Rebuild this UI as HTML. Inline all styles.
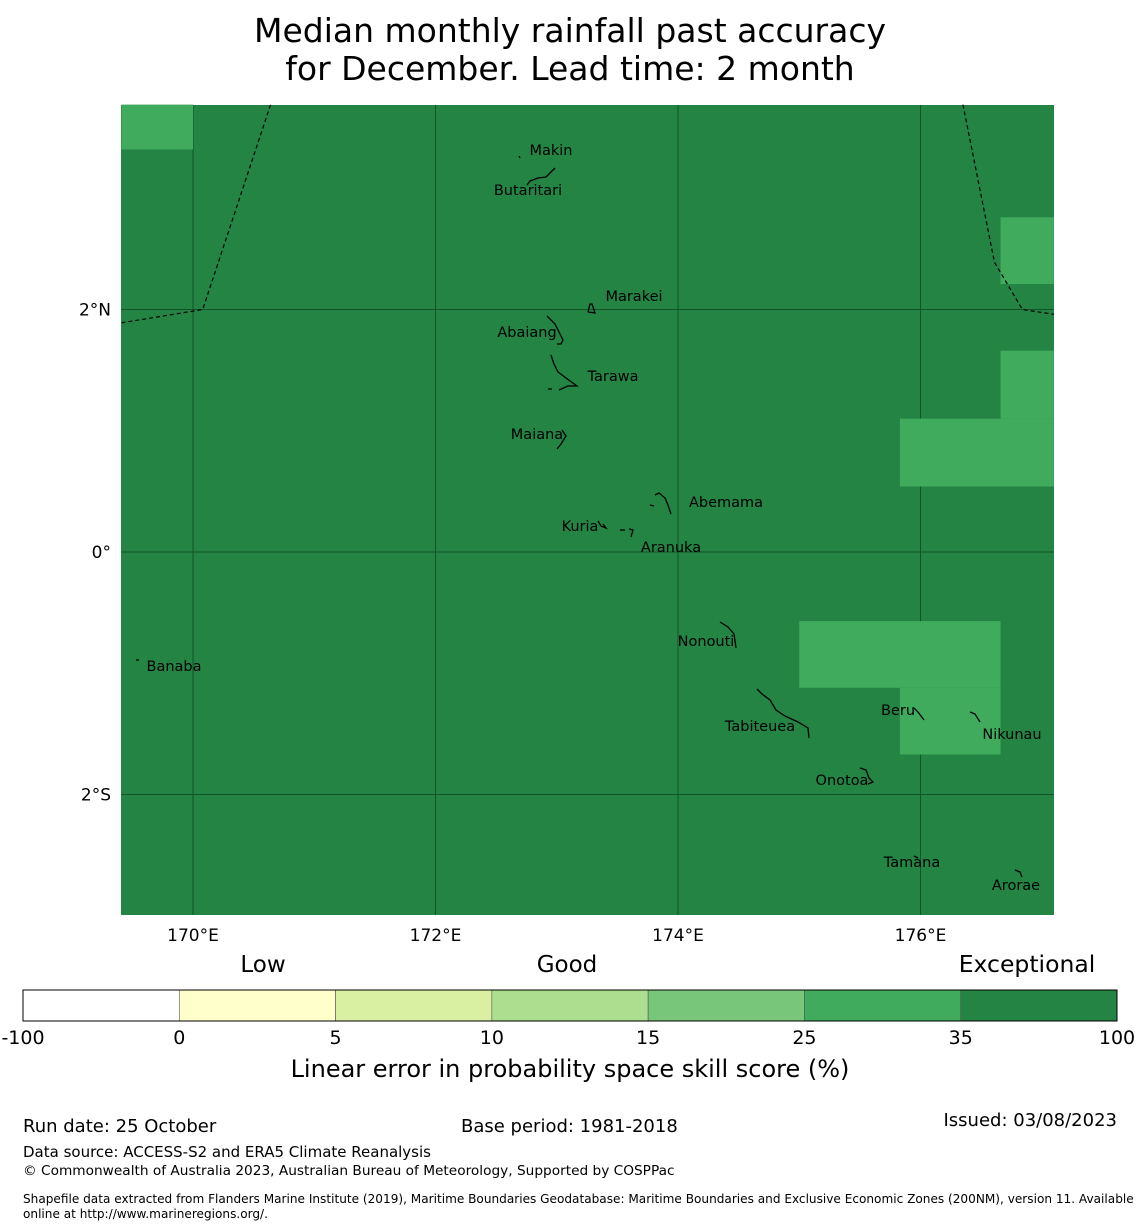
<!DOCTYPE html>
<html><head><meta charset="utf-8"><style>
body{margin:0;background:#fff;font-family:"DejaVu Sans","Liberation Sans",sans-serif;}
svg{display:block}
</style></head><body>
<svg id="s" width="1140" height="1230" xmlns="http://www.w3.org/2000/svg" font-family="DejaVu Sans, Liberation Sans, sans-serif">
<text x="570" y="42" font-size="33" text-anchor="middle">Median monthly rainfall past accuracy</text>
<text x="570" y="80" font-size="33" text-anchor="middle">for December. Lead time: 2 month</text>
<g id="map"></g>
<g id="cb"></g>
<text x="263" y="972" font-size="23" text-anchor="middle">Low</text>
<text x="567" y="972" font-size="23" text-anchor="middle">Good</text>
<text x="1027" y="972" font-size="23.5" text-anchor="middle">Exceptional</text>
<text x="570" y="1077" font-size="24" text-anchor="middle">Linear error in probability space skill score (%)</text>
<text x="23" y="1132" font-size="18">Run date: 25 October</text>
<text x="461" y="1132" font-size="18">Base period: 1981-2018</text>
<text x="1117" y="1126" font-size="18" text-anchor="end">Issued: 03/08/2023</text>
<text x="23" y="1157" font-size="15">Data source: ACCESS-S2 and ERA5 Climate Reanalysis</text>
<text x="23" y="1175" font-size="13.7">© Commonwealth of Australia 2023, Australian Bureau of Meteorology, Supported by COSPPac</text>
<text x="23" y="1203" font-size="12.1">Shapefile data extracted from Flanders Marine Institute (2019), Maritime Boundaries Geodatabase: Maritime Boundaries and Exclusive Economic Zones (200NM), version 11. Available</text>
<text x="23" y="1218" font-size="12.1">online at http://www.marineregions.org/.</text>
</svg>
<script>
const lonTicks=[170,172,174,176];
const lonTickLabels=["170°E","172°E","174°E","176°E"];
const latTicks=[2,0,-2];
const latTickLabels=["2°N","0°","2°S"];
const cellLon0=[169.41,176.66,176.66,175.83,175.0,175.83];
const cellLon1=[170.0,177.1,177.1,177.1,176.66,176.66];
const cellLat0=[3.32,2.21,1.10,0.54,-1.12,-1.67];
const cellLat1=[3.69,2.76,1.66,1.10,-0.57,-1.12];
const islandNames=["Makin","Butaritari","Marakei","Abaiang","Tarawa","Maiana","Abemama","Kuria","Aranuka","Nonouti","Banaba","Tabiteuea","Beru","Nikunau","Onotoa","Tamana","Arorae"];
const labelX=[551,528,634,527,613,537,726,580,671,706,174,760,898,1012,842,912,1016];
const labelY=[150,190,296,332,376,434,502,526,547,641,666,726,710,734,780,862,885];
const cbBounds=["-100","0","5","10","15","25","35","100"];
const cbColors=["#ffffff","#ffffcc","#d9f0a3","#addd8e","#78c679","#41ab5d","#238443"];
const eezLeftLon=[169.41,170.08,170.64];
const eezLeftLat=[1.89,2.00,3.69];
const eezRightLon=[176.35,176.61,176.84,177.1];
const eezRightLat=[3.69,2.39,2.00,1.96];
const outlines=[
 "519,156 520,158",
 "527,185 530,181 538,178 546,177 555,168",
 "588,312 590,304 592,304 595,313 588,312",
 "547,316 555,324 559,332 563,340 561,344 557,344",
 "551,355 554,364 558,372 566,378 577,386 568,386 559,390",
 "548,389 552,389",
 "562,430 566,436 561,444 557,449",
 "655,495 659,493 665,498 668,505 671,514",
 "650,505 654,506",
 "598,521 601,526 606,528 603,524",
 "620,530 625,530",
 "629,529 633,530 631,537",
 "720,622 728,627 734,634 736,648",
 "136,660 139,660",
 "757,689 762,694 770,700 776,710 785,716 798,722 808,728 809,738",
 "914,708 918,712 924,720",
 "970,712 975,714 980,722",
 "860,768 866,770 869,778 873,782 868,784",
 "914,856 918,858",
 "1015,870 1020,872 1022,877"
];

const X0=121,X1=1054,Y0=105,Y1=915;
const xs=lon=>193+(lon-170)*121.25;
const ys=lat=>552-lat*121.25;
const NS="http://www.w3.org/2000/svg";
function mk(tag,attrs,parent){const e=document.createElementNS(NS,tag);for(const k in attrs)e.setAttribute(k,attrs[k]);parent.appendChild(e);return e;}
const map=document.getElementById('map');
let bg=mk('rect',{x:X0,y:Y0,width:X1-X0,height:Y1-Y0,fill:'#238443'},map);


lonTicks.forEach((v,i)=>{
 const l=mk('line',{x1:xs(v),x2:xs(v),y1:Y0,y2:Y1,stroke:'#11542a','stroke-width':1},map);
 
 
 const t=mk('text',{x:xs(v),y:Y1+26,'font-size':17,'text-anchor':'middle'},map);t.textContent=lonTickLabels[i];
 
 
});
latTicks.forEach((v,i)=>{
 const l=mk('line',{x1:X0,x2:X1,y1:ys(v),y2:ys(v),stroke:'#11542a','stroke-width':1},map);
 
 
 const t=mk('text',{x:111,y:ys(v)+6,'font-size':17,'text-anchor':'end'},map);t.textContent=latTickLabels[i];
 
 
});
for(let i=0;i<cellLon0.length;i++){
 const r=mk('rect',{x:xs(cellLon0[i]),y:ys(cellLat1[i]),width:xs(cellLon1[i])-xs(cellLon0[i]),height:ys(cellLat0[i])-ys(cellLat1[i]),fill:'#41ab5d'},map);
 
 
}
function poly(lons,lats,name){
 const p=mk('polyline',{points:lons.map((v,i)=>xs(v)+','+ys(lats[i])).join(' '),fill:'none',stroke:'#000','stroke-width':1.2,'stroke-dasharray':'4,3'},map);
 
 
}
poly(eezLeftLon,eezLeftLat,'eez-boundary-west');
poly(eezRightLon,eezRightLat,'eez-boundary-east');
outlines.forEach(pts=>{
 const m=mk('polyline',{points:pts,fill:'none',stroke:'#000','stroke-width':1.3},map);
 
 
});
islandNames.forEach((n,i)=>{
 const t=mk('text',{x:labelX[i],y:labelY[i]+5,'font-size':14.5,'text-anchor':'middle'},map);t.textContent=n;
 
 
});
const cb=document.getElementById('cb');
const cx0=23,cx1=1117,cy=990,ch=31,w=(cx1-cx0)/cbColors.length;
cbColors.forEach((c,i)=>{
 const r=mk('rect',{x:cx0+i*w,y:cy,width:w,height:ch,fill:c,stroke:'#555','stroke-width':0.6},cb);
 
 
});
mk('rect',{x:cx0,y:cy,width:cx1-cx0,height:ch,fill:'none',stroke:'#000','stroke-width':1},cb);
cbBounds.forEach((b,i)=>{
 const t=mk('text',{x:cx0+i*w,y:1044,'font-size':19,'text-anchor':'middle'},cb);t.textContent=b;
 
 
});
</script>
</body></html>
